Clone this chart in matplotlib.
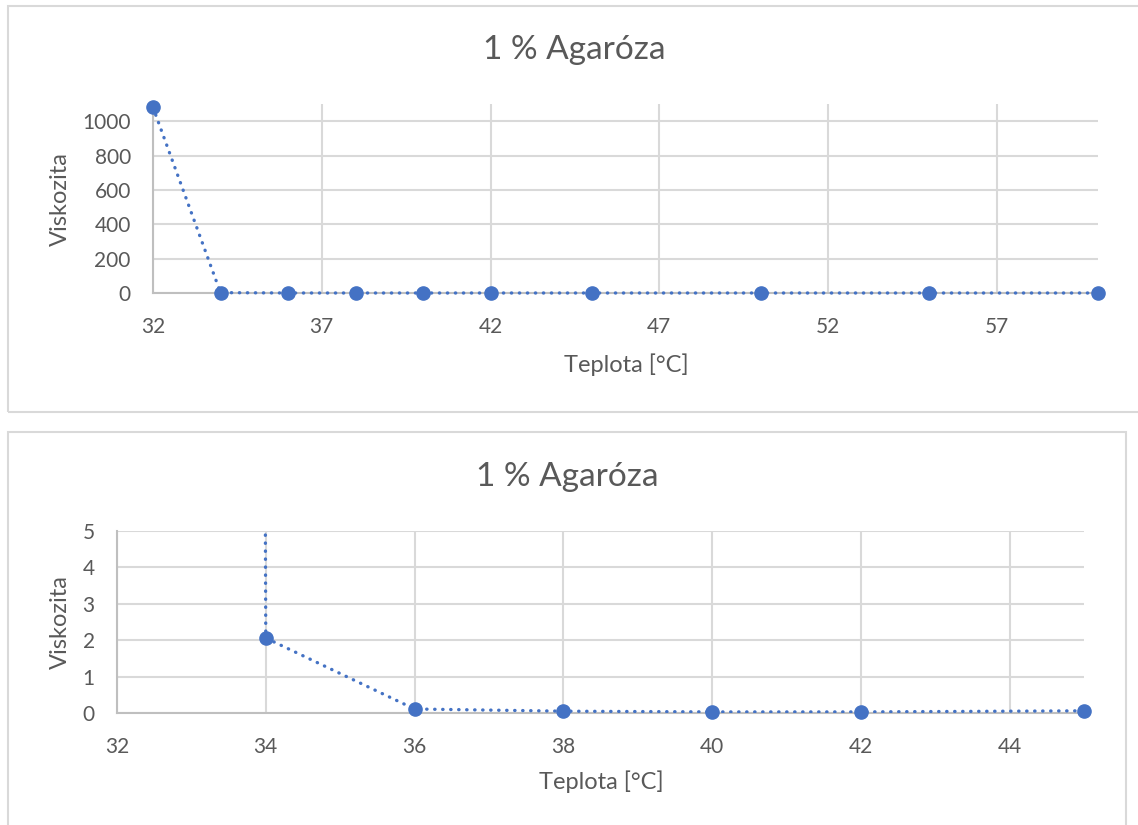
import numpy as np
import matplotlib
matplotlib.use('Agg')
import matplotlib.pyplot as plt
from matplotlib.patches import Rectangle

# data
teplota = [32, 34, 36, 38, 40, 42, 45, 50, 55, 60]
viskozita = [1080, 2.06, 0.11, 0.05, 0.03, 0.03, 0.06, 0.05, 0.04, 0.04]
title = '1 % Agaróza'
xlabel = 'Teplota [°C]'
ylabel = 'Viskozita'
top_xticks = [32, 37, 42, 47, 52, 57]
top_yticks = [0, 200, 400, 600, 800, 1000]
bot_xticks = [32, 34, 36, 38, 40, 42, 44]
bot_yticks = [0, 1, 2, 3, 4, 5]

W, H = 1138, 825
BLUE = '#4472C4'
TXT = '#595959'
GRID = '#D9D9D9'
AXIS = '#BFBFBF'

plt.rcParams['font.family'] = ['Lato', 'DejaVu Sans']

fig = plt.figure(figsize=(W / 100, H / 100), dpi=100)
fig.patch.set_facecolor('white')


def fx(px): return px / W
def fy(py): return 1 - py / H


def px_axes(l, t, r, b):
    return fig.add_axes([fx(l), fy(b), fx(r) - fx(l), (b - t) / H])


# chart borders
fig.add_artist(Rectangle((fx(8), fy(412)), fx(1150) - fx(8), (412 - 6) / H,
                         transform=fig.transFigure, fill=False, edgecolor=GRID, lw=1.5))
fig.add_artist(Rectangle((fx(8), fy(840)), fx(1126) - fx(8), (840 - 432) / H,
                         transform=fig.transFigure, fill=False, edgecolor=GRID, lw=1.5))


def style(ax, xticks, yticks, xlim, ylim):
    ax.set_xlim(*xlim); ax.set_ylim(*ylim)
    ax.set_xticks(xticks); ax.set_yticks(yticks)
    ax.grid(True, color=GRID, lw=1.5)
    ax.set_axisbelow(True)
    for s in ['top', 'right']:
        ax.spines[s].set_visible(False)
    for s in ['left', 'bottom']:
        ax.spines[s].set_color(AXIS); ax.spines[s].set_linewidth(1.5)
    ax.tick_params(length=0, labelsize=15, labelcolor=TXT)
    ax.tick_params(axis='x', pad=17)
    ax.tick_params(axis='y', pad=16)


line_kw = dict(color=BLUE, lw=2.4, linestyle=(0, (0.1, 2.3)), dash_capstyle='round', zorder=3)
mk_kw = dict(marker='o', ms=9.5, color=BLUE, lw=0, zorder=4)

# top chart
ax1 = px_axes(153, 104, 1098, 293)
style(ax1, top_xticks, top_yticks, (32, 60), (0, 1100))
ax1.plot(teplota, viskozita, clip_on=False, **line_kw)
ax1.plot(teplota, viskozita, clip_on=False, **mk_kw)
fig.text(fx(574), fy(50), title, ha='center', va='center', fontsize=24, color=TXT)
fig.text(fx(626), fy(365), xlabel, ha='center', va='center', fontsize=17, color=TXT)
fig.text(fx(60), fy(199), ylabel, ha='center', va='center', rotation=90, fontsize=17, color=TXT)

# bottom chart (zoomed)
ax2 = px_axes(117, 531, 1084, 713)
style(ax2, bot_xticks, bot_yticks, (32, 45), (0, 5))
ax2.plot(teplota, viskozita, **line_kw)
t = np.array(teplota); v = np.array(viskozita)
m = (t <= 45) & (v <= 5)
ax2.plot(t[m], v[m], clip_on=False, **mk_kw)
fig.text(fx(567), fy(477), title, ha='center', va='center', fontsize=24, color=TXT)
fig.text(fx(601), fy(782), xlabel, ha='center', va='center', fontsize=17, color=TXT)
fig.text(fx(60), fy(622), ylabel, ha='center', va='center', rotation=90, fontsize=17, color=TXT)

plt.savefig('out.png', dpi=100, facecolor='white')
plt.close()
